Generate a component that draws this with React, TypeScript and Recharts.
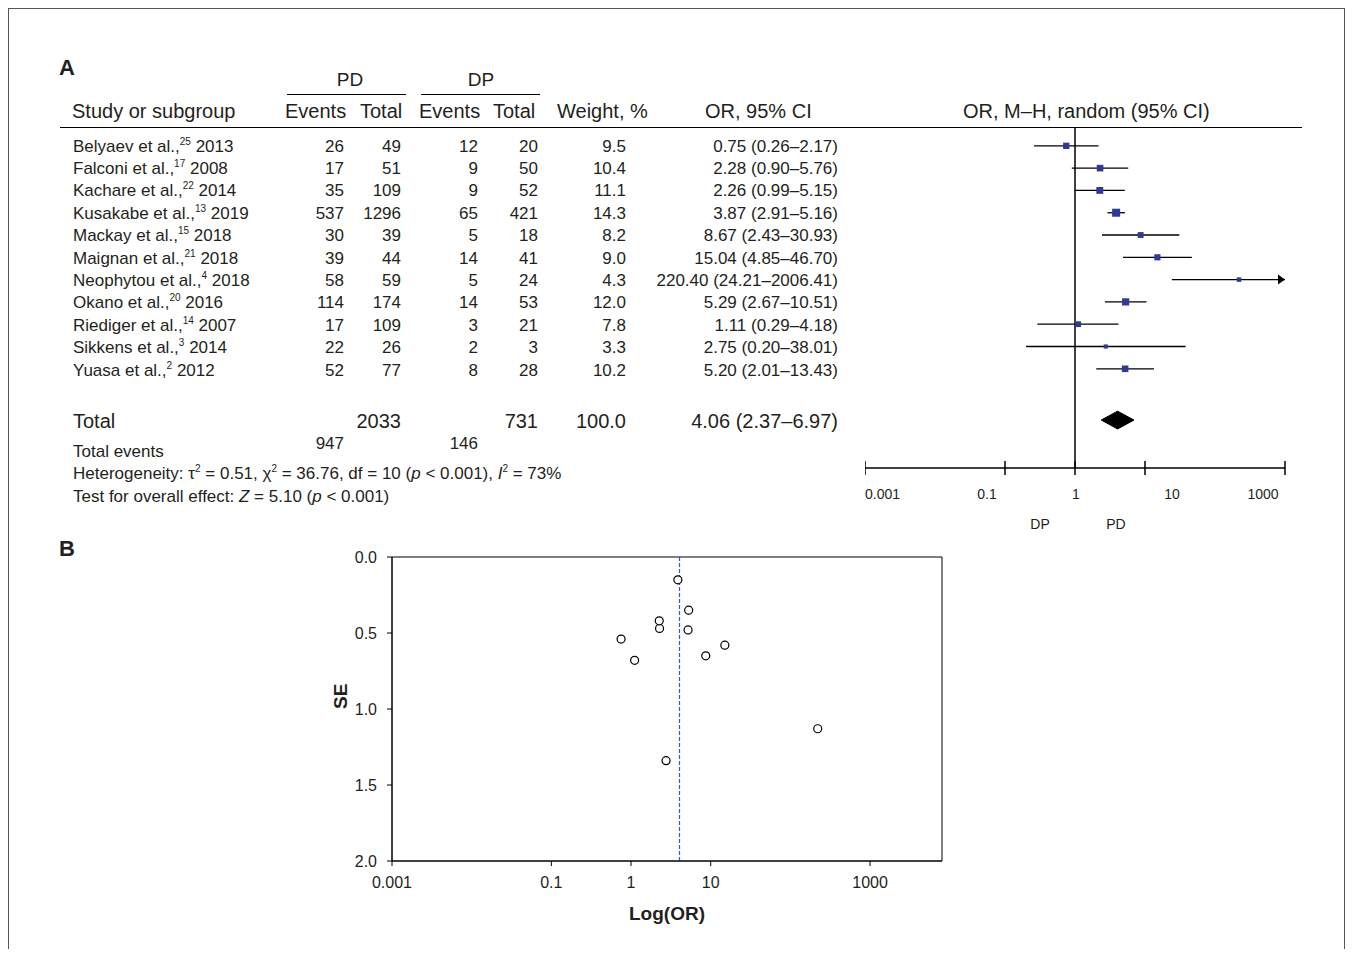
import React from "react"
import {
  ScatterChart,
  Scatter,
  XAxis,
  YAxis,
  ReferenceLine,
  ReferenceArea,
} from "recharts"

const studies = ["Belyaev et al.,", "Falconi et al.,", "Kachare et al.,", "Kusakabe et al.,", "Mackay et al.,", "Maignan et al.,", "Neophytou et al.,", "Okano et al.,", "Riediger et al.,", "Sikkens et al.,", "Yuasa et al.,"]
const refs = ["25", "17", "22", "13", "15", "21", "4", "20", "14", "3", "2"]
const years = ["2013", "2008", "2014", "2019", "2018", "2018", "2018", "2016", "2007", "2014", "2012"]
const pdEvents = [26, 17, 35, 537, 30, 39, 58, 114, 17, 22, 52]
const pdTotal = [49, 51, 109, 1296, 39, 44, 59, 174, 109, 26, 77]
const dpEvents = [12, 9, 9, 65, 5, 14, 5, 14, 3, 2, 8]
const dpTotal = [20, 50, 52, 421, 18, 41, 24, 53, 21, 3, 28]
const weights = [9.5, 10.4, 11.1, 14.3, 8.2, 9.0, 4.3, 12.0, 7.8, 3.3, 10.2]
const oddsRatio = [0.75, 2.28, 2.26, 3.87, 8.67, 15.04, 220.4, 5.29, 1.11, 2.75, 5.2]
const ciLow = [0.26, 0.9, 0.99, 2.91, 2.43, 4.85, 24.21, 2.67, 0.29, 0.2, 2.01]
const ciHigh = [2.17, 5.76, 5.15, 5.16, 30.93, 46.7, 2006.41, 10.51, 4.18, 38.01, 13.43]
const stdErr = [0.54, 0.47, 0.42, 0.15, 0.65, 0.58, 1.13, 0.35, 0.68, 1.34, 0.48]
const total = { pd: 2033, dp: 731, pdEv: 947, dpEv: 146, or: 4.06, lo: 2.37, hi: 6.97 }
const orTicks = [0.001, 0.1, 1, 10, 1000]
const seTicks = [0, 0.5, 1, 1.5, 2]

const FONT = "'Liberation Sans', Arial, sans-serif"
const INK = "#231f20"
const FOREST_MAX = 1000
const TOTAL_ROW = 12.3
// the forest axis labels in the figure sit a little off their ticks
const labelShift: Record<string, number> = { "0.001": 0, "0.1": -18, "1": 1, "10": 27, "1000": -22 }

const T = ({ x, y, s = 17, children, right, center, bold, w = 200 }: any) => {
  const style: React.CSSProperties = {
    position: "absolute",
    top: y - s / 2 - 1,
    fontSize: s,
    lineHeight: `${s + 2}px`,
    whiteSpace: "nowrap",
    fontWeight: bold ? "bold" : "normal",
    color: INK,
  }
  if (right) {
    style.left = x - w
    style.width = w
    style.textAlign = "right"
  } else if (center) {
    style.left = x - w / 2
    style.width = w
    style.textAlign = "center"
  } else style.left = x
  return <div style={style}>{children}</div>
}

const Sup = ({ children }: any) => (
  <span style={{ fontSize: 10, position: "relative", top: -7, lineHeight: 0 }}>{children}</span>
)

const fmtTick = (v: number) => String(v)

const ForestTick = ({ x, y, payload }: any) => {
  const v = payload.value
  const anchor = v === 0.001 ? "start" : "middle"
  return (
    <g>
      <line x1={x} x2={x} y1={y - 7} y2={y + 7} stroke="#000" strokeWidth={1.5} />
      <text x={x + (labelShift[String(v)] || 0)} y={y + 31} textAnchor={anchor} fontSize={14} fill={INK} fontFamily={FONT}>
        {fmtTick(v)}
      </text>
    </g>
  )
}

const Box = (p: any) => {
  const side = 3 + p.payload.w * 0.35
  return <rect x={p.cx - side / 2} y={p.cy - side / 2} width={side} height={side} fill="#2e3a94" />
}

const ciEnd = (clipped: boolean) => (p: any) => {
  if (!clipped || p.payload.x < FOREST_MAX) return <g />
  return <path d={`M${p.cx - 7},${p.cy - 5} L${p.cx},${p.cy} L${p.cx - 7},${p.cy + 5} Z`} fill="#000" />
}

const ForestPlot = () => {
  const boxes = oddsRatio.map((v, i) => ({ x: v, y: i, w: weights[i] }))
  const diamond = [
    { x: total.lo, y: TOTAL_ROW },
    { x: total.or, y: TOTAL_ROW - 0.4 },
    { x: total.hi, y: TOTAL_ROW },
    { x: total.or, y: TOTAL_ROW + 0.4 },
    { x: total.lo, y: TOTAL_ROW },
  ]
  return (
    <div style={{ position: "absolute", left: 865, top: 128 }}>
      <ScatterChart width={422} height={400} margin={{ top: 0, right: 2, bottom: 0, left: 0 }}>
        <XAxis
          type="number"
          dataKey="x"
          scale="log"
          domain={[0.001, FOREST_MAX]}
          ticks={orTicks}
          interval={0}
          allowDataOverflow
          tickSize={0}
          tickMargin={0}
          tick={<ForestTick />}
          axisLine={{ stroke: "#000", strokeWidth: 1.5 }}
          height={60}
        />
        <YAxis type="number" dataKey="y" domain={[-0.8, 14.45]} reversed hide />
        <ReferenceLine x={1} stroke="#000" strokeWidth={1.5} />
        {oddsRatio.map((_, i) => {
          const clipped = ciHigh[i] > FOREST_MAX
          return (
            <Scatter
              key={i}
              data={[
                { x: ciLow[i], y: i },
                { x: Math.min(ciHigh[i], FOREST_MAX), y: i },
              ]}
              line={{ stroke: "#000", strokeWidth: 1.3 }}
              shape={ciEnd(clipped)}
              isAnimationActive={false}
            />
          )
        })}
        <Scatter data={boxes} shape={<Box />} isAnimationActive={false} />
        <Scatter
          data={diamond}
          line={{ stroke: "#000", fill: "#000", strokeWidth: 1 }}
          shape={() => <g />}
          isAnimationActive={false}
        />
      </ScatterChart>
    </div>
  )
}

const Ring = (p: any) => <circle cx={p.cx} cy={p.cy} r={4} fill="#fff" stroke="#000" strokeWidth={1.2} />

const FunnelPlot = () => {
  const pts = oddsRatio.map((v, i) => ({ x: v, y: stdErr[i] }))
  return (
    <div style={{ position: "absolute", left: 320, top: 545 }}>
      <ScatterChart width={630} height={390} margin={{ top: 12, right: 8, bottom: 0, left: 22 }}>
        <XAxis
          type="number"
          dataKey="x"
          scale="log"
          domain={[0.001, 8000]}
          ticks={orTicks}
          interval={0}
          allowDataOverflow
          tickFormatter={fmtTick}
          tick={{ fontSize: 16, fill: INK, fontFamily: FONT }}
          tickSize={5}
          tickMargin={11}
          stroke="#000"
          height={74}
          label={{ value: "Log(OR)", position: "insideBottom", offset: 15, fontSize: 19, fontWeight: "bold", fill: INK }}
        />
        <YAxis
          type="number"
          dataKey="y"
          domain={[0, 2]}
          ticks={seTicks}
          interval={0}
          reversed
          tickFormatter={(v: number) => v.toFixed(1)}
          tick={{ fontSize: 16, fill: INK, fontFamily: FONT }}
          tickSize={5}
          tickMargin={10}
          stroke="#000"
          width={50}
          label={{ value: "SE", angle: -90, position: "insideLeft", offset: -2, fontSize: 19, fontWeight: "bold", fill: INK }}
        />
        <ReferenceArea x1={0.001} x2={8000} y1={0} y2={2} fill="none" stroke="#000" strokeWidth={1} />
        <ReferenceLine x={total.or} stroke="#3355cc" strokeWidth={1.2} strokeDasharray="4 2" />
        <Scatter data={pts} shape={<Ring />} isAnimationActive={false} />
      </ScatterChart>
    </div>
  )
}

export default function App() {
  const rowY = (i: number) => 146 + i * 22.4
  return (
    <div style={{ position: "relative", margin: -8, width: 1355, height: 957, fontFamily: FONT, background: "#fff", overflow: "hidden" }}>
      <div style={{ position: "absolute", left: 8, top: 8, width: 1337, height: 960, border: "1px solid #555", boxSizing: "border-box" }} />
      <T x={59} y={68} s={22} bold>A</T>
      <T x={350} y={79} s={19} center>PD</T>
      <div style={{ position: "absolute", left: 287, top: 94, width: 119, borderTop: "1.5px solid #000" }} />
      <T x={481} y={79} s={19} center>DP</T>
      <div style={{ position: "absolute", left: 421, top: 94, width: 119, borderTop: "1.5px solid #000" }} />
      <T x={72} y={111} s={20}>Study or subgroup</T>
      <T x={285} y={111} s={20}>Events</T>
      <T x={360} y={111} s={20}>Total</T>
      <T x={419} y={111} s={20}>Events</T>
      <T x={493} y={111} s={20}>Total</T>
      <T x={557} y={111} s={20}>Weight, %</T>
      <T x={705} y={111} s={20}>OR, 95% CI</T>
      <T x={963} y={111} s={20}>OR, M–H, random (95% CI)</T>
      <div style={{ position: "absolute", left: 60, top: 127, width: 1242, borderTop: "1.5px solid #000" }} />
      {studies.map((name, i) => (
        <React.Fragment key={i}>
          <T x={73} y={rowY(i)}>
            {name}
            <Sup>{refs[i]}</Sup> {years[i]}
          </T>
          <T x={344} y={rowY(i)} right>{pdEvents[i]}</T>
          <T x={401} y={rowY(i)} right>{pdTotal[i]}</T>
          <T x={478} y={rowY(i)} right>{dpEvents[i]}</T>
          <T x={538} y={rowY(i)} right>{dpTotal[i]}</T>
          <T x={626} y={rowY(i)} right>{weights[i].toFixed(1)}</T>
          <T x={838} y={rowY(i)} right w={260}>
            {oddsRatio[i].toFixed(2)} ({ciLow[i].toFixed(2)}–{ciHigh[i].toFixed(2)})
          </T>
        </React.Fragment>
      ))}
      <T x={73} y={421} s={20}>Total</T>
      <T x={401} y={421} s={20} right>{total.pd}</T>
      <T x={538} y={421} s={20} right>{total.dp}</T>
      <T x={626} y={421} s={20} right>100.0</T>
      <T x={838} y={421} s={20} right w={260}>
        {total.or.toFixed(2)} ({total.lo.toFixed(2)}–{total.hi.toFixed(2)})
      </T>
      <T x={73} y={451}>Total events</T>
      <T x={344} y={443} right>{total.pdEv}</T>
      <T x={478} y={443} right>{total.dpEv}</T>
      <T x={73} y={473}>
        Heterogeneity: τ<Sup>2</Sup> = 0.51, χ<Sup>2</Sup> = 36.76, df = 10 (<i>p</i> &lt; 0.001), <i>I</i>
        <Sup>2</Sup> = 73%
      </T>
      <T x={73} y={496}>
        Test for overall effect: <i>Z</i> = 5.10 (<i>p</i> &lt; 0.001)
      </T>
      <ForestPlot />
      <T x={1040} y={524} s={14} center w={40}>DP</T>
      <T x={1116} y={524} s={14} center w={40}>PD</T>
      <T x={59} y={549} s={22} bold>B</T>
      <FunnelPlot />
    </div>
  )
}
